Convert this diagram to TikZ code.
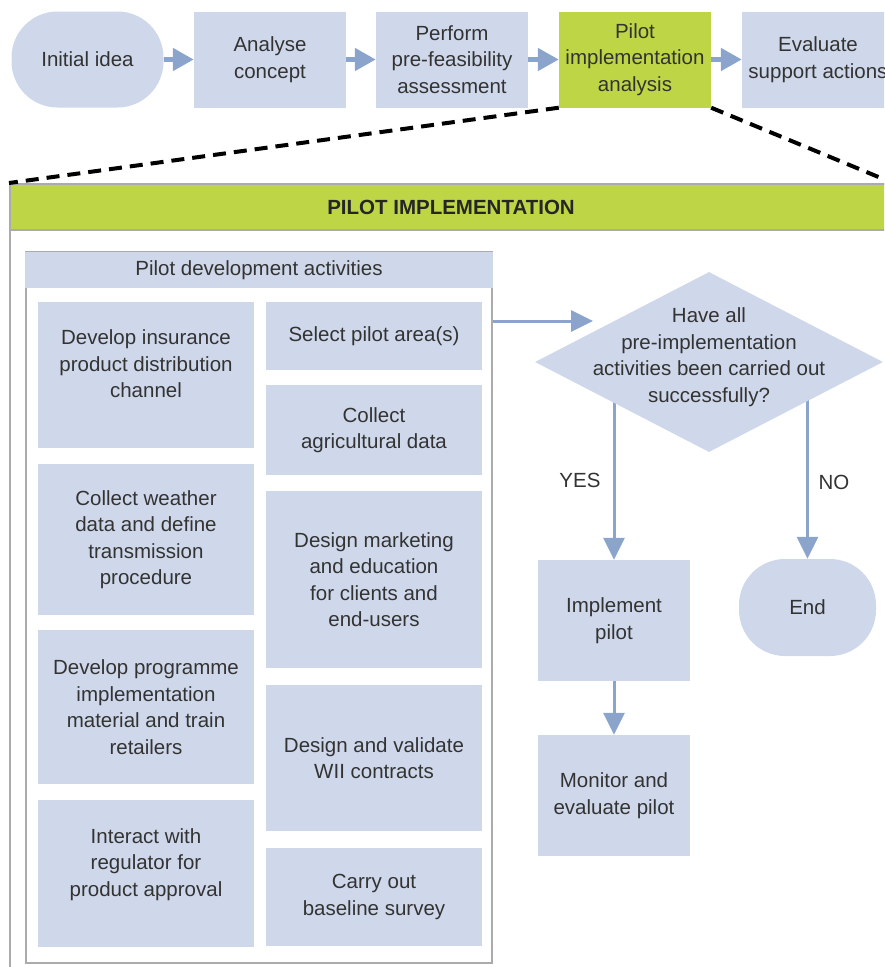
\documentclass[tikz,border=0pt]{standalone}
\usepackage{fontspec}
\setmainfont{Liberation Sans}
\usepackage{xcolor}
\usetikzlibrary{arrows.meta}
\usetikzlibrary{shapes.geometric}
\usetikzlibrary{backgrounds}
\definecolor{boxblue}{HTML}{CFD8EA}
\definecolor{arrowblue}{HTML}{8AA4CC}
\definecolor{pilotgreen}{HTML}{BED645}
\definecolor{framegray}{HTML}{ABABAB}
\definecolor{inkgray}{HTML}{333333}
\tikzset{every node/.style={font=\fontsize{20.5}{26.5}\selectfont,text=inkgray,align=center},
 ibox/.style={fill=boxblue,minimum width=216pt,inner sep=0pt},
 topbox/.style={fill=boxblue,minimum width=152pt,minimum height=96pt,inner sep=0pt},
 oval/.style={fill=boxblue,rounded corners=46pt,minimum height=96pt,inner sep=0pt},
 ask/.style={diamond,fill=boxblue,minimum width=348pt,minimum height=180pt,inner sep=0pt},
 toparrow/.style={-{Triangle[length=21pt,width=22pt]},draw=arrowblue,line width=5pt},
 flowarrow/.style={-{Triangle[length=22pt,width=21pt]},draw=arrowblue,line width=3pt},
 zoomline/.style={draw=black,line width=4pt,dash pattern=on 13pt off 8pt},
 }

\begin{document}
\begin{tikzpicture}[x=1pt,y=-1pt]
        \useasboundingbox (0,0) rectangle (884,967);
        \clip (0,0) rectangle (884,967);
        \node[oval,minimum width=152pt] (idea) at (87.5,59.5) {Initial idea};
        \node[topbox] (concept) at (270,59.5) {Analyse\\concept};
        \node[topbox] (prefeas) at (452,59.5) {Perform\\pre-feasibility\\assessment};
        \node[topbox,fill=pilotgreen] (pilot) at (635,59.5) {Pilot\\implementation\\analysis};
        \node[topbox] (support) at (818,59.5) {Evaluate\\support actions};
        \draw[toparrow] (idea) -- (concept);
        \draw[toparrow] (concept) -- (prefeas);
        \draw[toparrow] (prefeas) -- (pilot);
        \draw[toparrow] (pilot) -- (support);

        \node[draw=framegray,line width=2pt,minimum width=882pt,minimum height=812pt,inner sep=0pt] (pan) at (451,590) {};
        \node[draw=framegray,fill=pilotgreen,line width=2pt,minimum width=882pt,minimum height=46pt,inner sep=0pt,anchor=north,
              font=\fontsize{20.5}{26.5}\selectfont\bfseries,text=black!85] (head) at (pan.north) {PILOT IMPLEMENTATION};
        \draw[zoomline] (pilot.south west) -- (pan.north west);
        \draw[zoomline] (pilot.south east) -- (pan.north east);

        \node[draw=framegray,line width=1.5pt,minimum width=466pt,minimum height=711pt,inner sep=0pt] (grp) at (259,607.5) {};
        \node[fill=boxblue,minimum width=468pt,minimum height=36pt,inner sep=0pt] (grphead) at (259,270) {Pilot development activities};
        \node[ibox,minimum height=146pt,text depth=22pt] (distrib) at (146,375) {Develop insurance\\product distribution\\channel};
        \node[ibox,minimum height=151pt] (weather) at (146,539.5) {Collect weather\\data and define\\transmission\\procedure};
        \node[ibox,minimum height=154pt] (material) at (146,707) {Develop programme\\implementation\\material and train\\retailers};
        \node[ibox,minimum height=147pt,text depth=22pt] (regulator) at (146,873.5) {Interact with\\regulator for\\product approval};
        \node[ibox,minimum height=68pt] (area) at (374,336) {Select pilot area(s)};
        \node[ibox,minimum height=90pt] (agdata) at (374,430) {Collect\\agricultural data};
        \node[ibox,minimum height=177pt] (marketing) at (374,579.5) {Design marketing\\and education\\for clients and\\end-users};
        \node[ibox,minimum height=146pt] (contracts) at (374,758) {Design and validate\\WII contracts};
        \node[ibox,minimum height=98pt] (survey) at (374,897) {Carry out\\baseline survey};

        \node[ask] (ques) at (709,362) {};
        \node (questxt) at (709,357) {Have all\\pre-implementation\\activities been carried out\\successfully?};
        \node[topbox,minimum height=121pt] (impl) at (614,620.5) {Implement\\pilot};
        \node[topbox,minimum height=121pt] (monitor) at (614,795.5) {Monitor and\\evaluate pilot};
        \node[oval,minimum width=137pt,minimum height=97pt] (finish) at (807.5,607.5) {End};
        \node (yes) at (580,480) {YES};
        \node (no) at (834,482) {NO};
        \coordinate (tip) at (593,321);
        \draw[flowarrow] (grp.east |- tip) -- (tip);
        \begin{scope}[on background layer]
                \draw[flowarrow] (impl.north |- ques.center) -- (impl.north);
                \draw[flowarrow] (finish.north |- ques.center) -- (finish.north);
        \end{scope}
        \draw[flowarrow] (impl) -- (monitor);
\end{tikzpicture}
\end{document}
